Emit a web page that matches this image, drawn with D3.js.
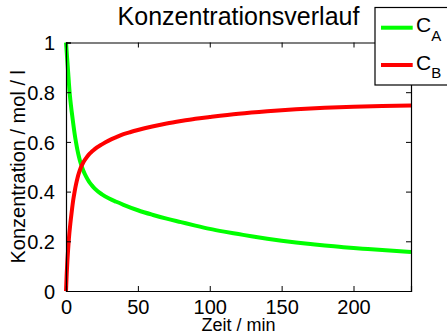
<!DOCTYPE html>
<html><head><meta charset="utf-8">
<script src="https://cdn.jsdelivr.net/npm/d3@7/dist/d3.min.js"></script>
<style>
html,body{margin:0;padding:0;background:#fff;}
svg{display:block;font-family:"Liberation Sans",Arial,Helvetica,sans-serif;}
</style></head>
<body>
<svg id="c" width="447" height="333"></svg>
<script>
const timeA = [0,0.5,1,1.5,2,2.5,3,4,5,6,7,8,9,10,12,14,16,18,20,25,30,35,40,50,60,70,80,90,100,110,120,130,140,150,160,170,180,190,200,210,220,230,240];
const cA    = [1.0,0.96,0.92,0.88,0.838,0.80,0.77,0.72,0.675,0.633,0.597,0.566,0.54,0.518,0.485,0.46,0.44,0.425,0.412,0.389,0.372,0.359,0.347,0.325,0.307,0.291,0.277,0.263,0.250,0.239,0.229,0.219,0.210,0.202,0.195,0.189,0.183,0.178,0.173,0.169,0.165,0.161,0.157];
const timeB = [0,0.5,1,1.5,2,3,4,5,6,7,8,9,10,12,14,16,18,20,25,30,35,40,45,50,60,70,80,90,100,120,140,160,180,200,220,240];
const cB    = [0,0.07,0.125,0.17,0.21,0.27,0.32,0.365,0.40,0.43,0.455,0.475,0.492,0.517,0.535,0.55,0.561,0.571,0.59,0.606,0.619,0.631,0.640,0.648,0.662,0.674,0.684,0.693,0.70,0.713,0.723,0.731,0.737,0.741,0.744,0.746];
const xTicks = [0,50,100,150,200];
const yTicks = [0,0.2,0.4,0.6,0.8,1];
const seriesNames = ["A","B"];
const seriesColors = ["#00ff00","#ff0000"];

const svg = d3.select("#c");
const L=66,R=411,T=42.5,B=291;
const x = d3.scaleLinear().domain([0,240]).range([L,R]);
const y = d3.scaleLinear().domain([0,1]).range([B,T]);

// curves
const series=[[timeA,cA],[timeB,cB]];
series.forEach(([ts,vals],i)=>{
  const line=d3.line().x((d,j)=>x(ts[j])).y(d=>y(d)).curve(d3.curveMonotoneX);
  svg.append("path").attr("d",line(vals)).attr("fill","none")
    .attr("stroke",seriesColors[i]).attr("stroke-width",4).attr("stroke-linejoin","round");
});

// axes
const tl=5;
const gB=svg.append("g").attr("transform",`translate(0,${B})`).call(d3.axisBottom(x).tickValues(xTicks).tickSize(-tl).tickPadding(tl+4).tickFormat(d3.format("d")));
const gT=svg.append("g").attr("transform",`translate(0,${T})`).call(d3.axisTop(x).tickValues(xTicks).tickSize(-tl).tickFormat(""));
const gL=svg.append("g").attr("transform",`translate(${L},0)`).call(d3.axisLeft(y).tickValues(yTicks).tickSize(-tl).tickPadding(tl+6).tickFormat(d=>d===0?"0":d===1?"1":d3.format(".1f")(d)));
const gR=svg.append("g").attr("transform",`translate(${R},0)`).call(d3.axisRight(y).tickValues(yTicks).tickSize(-tl).tickFormat(""));
[gB,gT,gL,gR].forEach(g=>{
  g.select(".domain").attr("stroke","#000").attr("stroke-width",1.2);
  g.selectAll(".tick line").attr("stroke","#000").attr("stroke-width",1);
  g.selectAll("text").attr("font-size",20).attr("fill","#000").attr("font-family","Liberation Sans, Arial, sans-serif");
});
gB.selectAll(".tick line").filter(d=>d===0).remove();
gL.selectAll(".tick text").attr("dy","0.36em");

// title
svg.append("text").attr("x",(L+R)/2).attr("y",25).attr("text-anchor","middle")
  .attr("font-size",25).attr("fill","#000").text("Konzentrationsverlauf");
// axis labels
svg.append("text").attr("x",(L+R)/2).attr("y",331).attr("text-anchor","middle")
  .attr("font-size",18).attr("fill","#000").text("Zeit / min");
svg.append("text").attr("transform",`translate(25,${(T+B)/2}) rotate(-90)`).attr("text-anchor","middle")
  .attr("font-size",20).attr("fill","#000").text("Konzentration / mol / l");

// legend
const lg=svg.append("g");
lg.append("rect").attr("x",375).attr("y",7.5).attr("width",80).attr("height",77.5)
  .attr("fill","#fff").attr("stroke","#000").attr("stroke-width",1.2);
const ly=[27.7,65];
seriesNames.forEach((n,i)=>{
  lg.append("line").attr("x1",381).attr("x2",412.7).attr("y1",ly[i]).attr("y2",ly[i])
    .attr("stroke",seriesColors[i]).attr("stroke-width",4);
  const t=lg.append("text").attr("x",416).attr("y",ly[i]+4.5).attr("font-size",21).attr("fill","#000");
  t.append("tspan").text("C");
  t.append("tspan").attr("dy",8.5).attr("font-size",15).text(n);
});
</script>
</body></html>
